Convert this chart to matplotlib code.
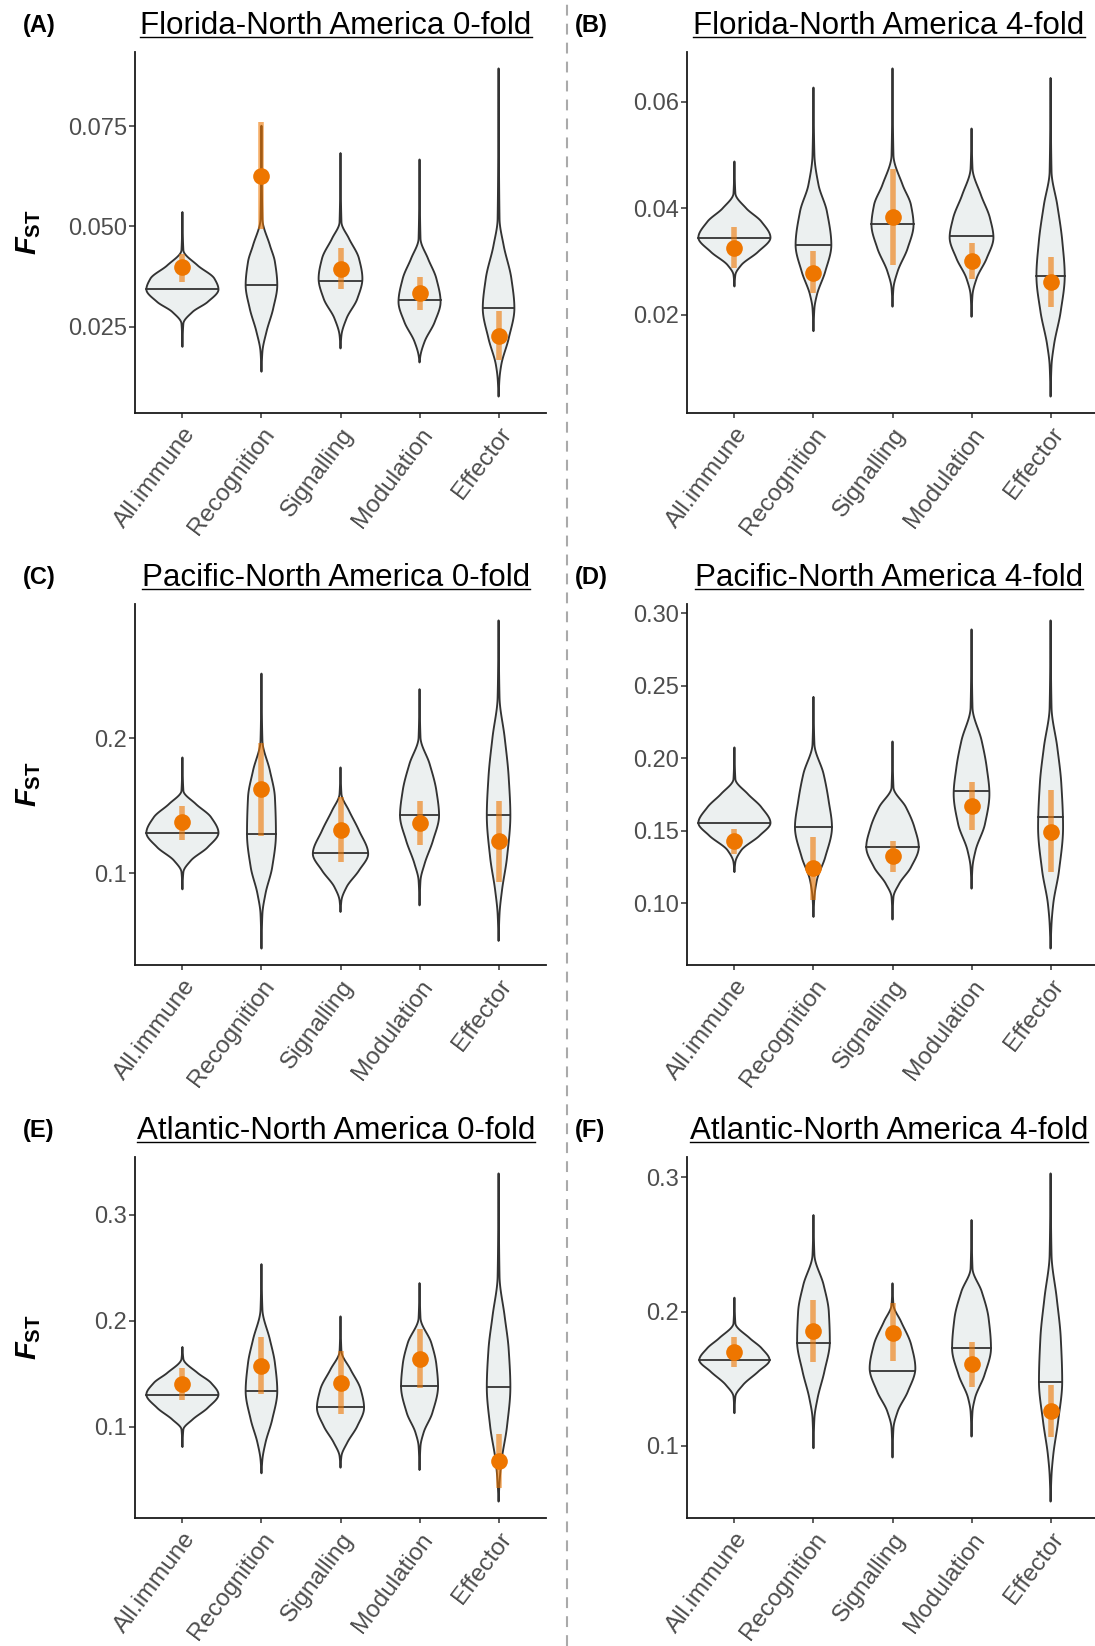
import matplotlib
matplotlib.use('Agg')
import matplotlib.pyplot as plt
import numpy as np
from matplotlib.lines import Line2D

plt.rcParams['font.family'] = ['Liberation Sans', 'DejaVu Sans']
plt.rcParams['mathtext.fontset'] = 'custom'
plt.rcParams['mathtext.it'] = 'Liberation Sans:italic:bold'
plt.rcParams['mathtext.bf'] = 'Liberation Sans:bold'
plt.rcParams['mathtext.rm'] = 'Liberation Sans'

categories = ['All.immune', 'Recognition', 'Signalling', 'Modulation', 'Effector']
titles = ['Florida-North America 0-fold', 'Florida-North America 4-fold',
          'Pacific-North America 0-fold', 'Pacific-North America 4-fold',
          'Atlantic-North America 0-fold', 'Atlantic-North America 4-fold']
tags = ['(A)', '(B)', '(C)', '(D)', '(E)', '(F)']

# violin outlines: FST levels (bottom tip -> top tip) and half widths (category units)
fl0_knot_y = [[0.0200, 0.0258, 0.0287, 0.0312, 0.0343, 0.0370, 0.0403, 0.0441, 0.0536],
              [0.0138, 0.0188, 0.0238, 0.0296, 0.0354, 0.0412, 0.0453, 0.0519, 0.0751],
              [0.0196, 0.0229, 0.0271, 0.0320, 0.0370, 0.0420, 0.0470, 0.0511, 0.0683],
              [0.0161, 0.0179, 0.0213, 0.0262, 0.0312, 0.0370, 0.0420, 0.0470, 0.0667],
              [0.0076, 0.0122, 0.0155, 0.0221, 0.0296, 0.0370, 0.0453, 0.0519, 0.0894]]
fl0_knot_w = [[0, 0.012, 0.128, 0.320, 0.456, 0.405, 0.192, 0.012, 0],
              [0, 0.012, 0.064, 0.149, 0.200, 0.170, 0.107, 0.012, 0],
              [0, 0.012, 0.077, 0.213, 0.277, 0.234, 0.107, 0.012, 0],
              [0, 0.012, 0.064, 0.192, 0.266, 0.213, 0.107, 0.012, 0],
              [0, 0.012, 0.034, 0.128, 0.200, 0.162, 0.064, 0.012, 0]]
fl0_median = [0.0343, 0.0355, 0.0363, 0.0316, 0.0296]
fl0_obs = [0.0399, 0.0627, 0.0395, 0.0334, 0.0228]
fl0_lo = [0.0362, 0.0493, 0.0343, 0.0291, 0.0167]
fl0_hi = [0.0432, 0.0761, 0.0446, 0.0374, 0.0290]
fl0_ticks = [0.025, 0.050, 0.075]
fl0_ticklabels = ['0.025', '0.050', '0.075']

fl4_knot_y = [[0.0253, 0.0275, 0.0293, 0.0318, 0.0345, 0.0375, 0.0400, 0.0428, 0.0488],
              [0.0169, 0.0212, 0.0237, 0.0281, 0.0331, 0.0394, 0.0444, 0.0500, 0.0627],
              [0.0215, 0.0250, 0.0281, 0.0325, 0.0369, 0.0406, 0.0444, 0.0500, 0.0663],
              [0.0196, 0.0237, 0.0268, 0.0306, 0.0345, 0.0381, 0.0425, 0.0475, 0.0550],
              [0.0046, 0.0105, 0.0143, 0.0206, 0.0273, 0.0337, 0.0406, 0.0469, 0.0645]]
fl4_knot_w = [[0, 0.012, 0.085, 0.298, 0.456, 0.341, 0.149, 0.012, 0],
              [0, 0.012, 0.043, 0.149, 0.226, 0.170, 0.064, 0.012, 0],
              [0, 0.012, 0.064, 0.192, 0.266, 0.234, 0.128, 0.012, 0],
              [0, 0.012, 0.064, 0.192, 0.277, 0.234, 0.119, 0.012, 0],
              [0, 0.012, 0.043, 0.128, 0.179, 0.149, 0.085, 0.012, 0]]
fl4_median = [0.0345, 0.0331, 0.0370, 0.0347, 0.0273]
fl4_obs = [0.0326, 0.0279, 0.0384, 0.0301, 0.0261]
fl4_lo = [0.0287, 0.0240, 0.0293, 0.0268, 0.0214]
fl4_hi = [0.0364, 0.0320, 0.0474, 0.0334, 0.0309]
fl4_ticks = [0.02, 0.04, 0.06]
fl4_ticklabels = ['0.02', '0.04', '0.06']

pa0_knot_y = [[0.0879, 0.1007, 0.1093, 0.1192, 0.1299, 0.1415, 0.1513, 0.1612, 0.1859],
              [0.0439, 0.0698, 0.0847, 0.1044, 0.1291, 0.1563, 0.1760, 0.1983, 0.2482],
              [0.0711, 0.0797, 0.0896, 0.1019, 0.1143, 0.1316, 0.1464, 0.1588, 0.1785],
              [0.0760, 0.0945, 0.1069, 0.1242, 0.1427, 0.1612, 0.1810, 0.2007, 0.2366],
              [0.0496, 0.0698, 0.0871, 0.1118, 0.1427, 0.1711, 0.2007, 0.2304, 0.2877]]
pa0_knot_w = [[0, 0.012, 0.107, 0.320, 0.456, 0.362, 0.170, 0.012, 0],
              [0, 0.012, 0.051, 0.136, 0.183, 0.170, 0.107, 0.012, 0],
              [0, 0.012, 0.077, 0.234, 0.350, 0.234, 0.107, 0.012, 0],
              [0, 0.012, 0.064, 0.170, 0.247, 0.213, 0.128, 0.012, 0],
              [0, 0.012, 0.043, 0.107, 0.149, 0.128, 0.077, 0.012, 0]]
pa0_median = [0.1299, 0.1291, 0.1148, 0.1432, 0.1432]
pa0_obs = [0.1378, 0.1625, 0.1321, 0.1370, 0.1237]
pa0_lo = [0.1249, 0.1279, 0.1081, 0.1205, 0.0933]
pa0_hi = [0.1501, 0.1965, 0.1563, 0.1538, 0.1538]
pa0_ticks = [0.1, 0.2]
pa0_ticklabels = ['0.1', '0.2']

pa4_knot_y = [[0.1216, 0.1285, 0.1365, 0.1468, 0.1555, 0.1663, 0.1754, 0.1857, 0.2075],
              [0.0907, 0.1044, 0.1159, 0.1319, 0.1525, 0.1708, 0.1892, 0.2098, 0.2423],
              [0.0889, 0.1044, 0.1136, 0.1250, 0.1388, 0.1525, 0.1663, 0.1800, 0.2116],
              [0.1102, 0.1250, 0.1365, 0.1548, 0.1754, 0.1937, 0.2121, 0.2350, 0.2888],
              [0.0689, 0.0861, 0.0998, 0.1227, 0.1525, 0.1823, 0.2075, 0.2350, 0.2950]]
pa4_knot_w = [[0, 0.012, 0.085, 0.320, 0.456, 0.341, 0.170, 0.012, 0],
              [0, 0.012, 0.043, 0.149, 0.234, 0.192, 0.128, 0.012, 0],
              [0, 0.012, 0.085, 0.234, 0.332, 0.277, 0.170, 0.012, 0],
              [0, 0.012, 0.051, 0.170, 0.226, 0.192, 0.128, 0.012, 0],
              [0, 0.012, 0.034, 0.107, 0.158, 0.136, 0.085, 0.012, 0]]
pa4_median = [0.1555, 0.1525, 0.1392, 0.1777, 0.1594]
pa4_obs = [0.1427, 0.1246, 0.1324, 0.1669, 0.1495]
pa4_lo = [0.1342, 0.1026, 0.1216, 0.1509, 0.1216]
pa4_hi = [0.1514, 0.1461, 0.1427, 0.1834, 0.1784]
pa4_ticks = [0.10, 0.15, 0.20, 0.25, 0.30]
pa4_ticklabels = ['0.10', '0.15', '0.20', '0.25', '0.30']

at0_knot_y = [[0.0807, 0.0973, 0.1067, 0.1177, 0.1303, 0.1413, 0.1507, 0.1639, 0.1752],
              [0.0559, 0.0691, 0.0848, 0.1067, 0.1334, 0.1601, 0.1821, 0.2104, 0.2534],
              [0.0612, 0.0722, 0.0848, 0.1005, 0.1177, 0.1350, 0.1538, 0.1711, 0.2041],
              [0.0590, 0.0816, 0.0942, 0.1130, 0.1381, 0.1586, 0.1790, 0.2025, 0.2355],
              [0.0292, 0.0470, 0.0659, 0.1005, 0.1372, 0.1727, 0.2041, 0.2418, 0.3391]]
at0_knot_w = [[0, 0.012, 0.128, 0.320, 0.456, 0.362, 0.192, 0.012, 0],
              [0, 0.012, 0.051, 0.136, 0.200, 0.170, 0.107, 0.012, 0],
              [0, 0.012, 0.085, 0.213, 0.298, 0.256, 0.128, 0.012, 0],
              [0, 0.012, 0.051, 0.162, 0.234, 0.213, 0.149, 0.012, 0],
              [0, 0.012, 0.034, 0.107, 0.149, 0.128, 0.077, 0.012, 0]]
at0_median = [0.1303, 0.1341, 0.1184, 0.1388, 0.1372]
at0_obs = [0.1403, 0.1576, 0.1413, 0.1642, 0.0675]
at0_lo = [0.1256, 0.1312, 0.1115, 0.1363, 0.0417]
at0_hi = [0.1554, 0.1846, 0.1711, 0.1925, 0.0932]
at0_ticks = [0.1, 0.2, 0.3]
at0_ticklabels = ['0.1', '0.2', '0.3']

at4_knot_y = [[0.1244, 0.1368, 0.1454, 0.1554, 0.1640, 0.1727, 0.1802, 0.1913, 0.2104],
              [0.0983, 0.1207, 0.1355, 0.1554, 0.1777, 0.2000, 0.2198, 0.2422, 0.2719],
              [0.0914, 0.1132, 0.1256, 0.1405, 0.1578, 0.1752, 0.1926, 0.2050, 0.2211],
              [0.1070, 0.1256, 0.1355, 0.1529, 0.1727, 0.1950, 0.2149, 0.2322, 0.2682],
              [0.0586, 0.0785, 0.0934, 0.1182, 0.1479, 0.1802, 0.2099, 0.2422, 0.3029]]
at4_knot_w = [[0, 0.012, 0.108, 0.302, 0.444, 0.345, 0.194, 0.012, 0],
              [0, 0.012, 0.052, 0.138, 0.207, 0.194, 0.129, 0.012, 0],
              [0, 0.012, 0.065, 0.194, 0.289, 0.237, 0.108, 0.012, 0],
              [0, 0.012, 0.043, 0.164, 0.246, 0.216, 0.129, 0.012, 0],
              [0, 0.012, 0.034, 0.095, 0.147, 0.129, 0.078, 0.012, 0]]
at4_median = [0.1640, 0.1769, 0.1559, 0.1732, 0.1474]
at4_obs = [0.1702, 0.1856, 0.1844, 0.1608, 0.1261]
at4_lo = [0.1591, 0.1628, 0.1633, 0.1442, 0.1070]
at4_hi = [0.1814, 0.2087, 0.2062, 0.1777, 0.1454]
at4_ticks = [0.1, 0.2, 0.3]
at4_ticklabels = ['0.1', '0.2', '0.3']

VIOLIN_FILL = '#ECF0F0'
VIOLIN_EDGE = '#333333'
ORANGE = '#EE7600'
TICK_GREY = '#4D4D4D'

W, H = 1095, 1646


def pchip(x, y, xn):
    """Shape preserving cubic through the outline knots."""
    x = np.asarray(x, float)
    y = np.asarray(y, float)
    h = np.diff(x)
    d = np.diff(y) / h
    m = np.zeros_like(y)
    for k in range(1, len(x) - 1):
        if d[k - 1] * d[k] > 0:
            w1 = 2 * h[k] + h[k - 1]
            w2 = h[k] + 2 * h[k - 1]
            m[k] = (w1 + w2) / (w1 / d[k - 1] + w2 / d[k])
    m[0], m[-1] = d[0], d[-1]
    idx = np.clip(np.searchsorted(x, xn) - 1, 0, len(x) - 2)
    t = (xn - x[idx]) / h[idx]
    h00 = 2 * t ** 3 - 3 * t ** 2 + 1
    h10 = t ** 3 - 2 * t ** 2 + t
    h01 = -2 * t ** 3 + 3 * t ** 2
    h11 = t ** 3 - t ** 2
    return h00 * y[idx] + h10 * h[idx] * m[idx] + h01 * y[idx + 1] + h11 * h[idx] * m[idx + 1]


def px_axes(fig, x0, y0, x1, y1):
    return fig.add_axes([x0 / W, 1 - y1 / H, (x1 - x0) / W, (y1 - y0) / H])


panels = [
    (fl0_knot_y, fl0_knot_w, fl0_median, fl0_obs, fl0_lo, fl0_hi, fl0_ticks, fl0_ticklabels),
    (fl4_knot_y, fl4_knot_w, fl4_median, fl4_obs, fl4_lo, fl4_hi, fl4_ticks, fl4_ticklabels),
    (pa0_knot_y, pa0_knot_w, pa0_median, pa0_obs, pa0_lo, pa0_hi, pa0_ticks, pa0_ticklabels),
    (pa4_knot_y, pa4_knot_w, pa4_median, pa4_obs, pa4_lo, pa4_hi, pa4_ticks, pa4_ticklabels),
    (at0_knot_y, at0_knot_w, at0_median, at0_obs, at0_lo, at0_hi, at0_ticks, at0_ticklabels),
    (at4_knot_y, at4_knot_w, at4_median, at4_obs, at4_lo, at4_hi, at4_ticks, at4_ticklabels),
]

fig = plt.figure(figsize=(W / 100, H / 100), dpi=100)

col_x = [(135, 546), (687, 1098)]
row_y = [(52, 413), (604, 965), (1157, 1518)]
title_cx = [336, 889]
tag_x = [23, 575]

title_texts = []
for i, (ky, kw, med, obs, lo, hi, ticks, ticklabels) in enumerate(panels):
    r, c = divmod(i, 2)
    x0, x1 = col_x[c]
    y0, y1 = row_y[r]
    ax = px_axes(fig, x0, y0, x1, y1)

    for j in range(len(categories)):
        pos = j + 1
        yy = np.linspace(ky[j][0], ky[j][-1], 400)
        ww = np.clip(pchip(ky[j], kw[j], yy), 0, None)
        xs = np.concatenate([pos + ww, (pos - ww)[::-1]])
        ys = np.concatenate([yy, yy[::-1]])
        ax.fill(xs, ys, facecolor=VIOLIN_FILL, edgecolor=VIOLIN_EDGE, lw=1.35,
                joinstyle='round', zorder=2)
        mw = float(np.clip(pchip(ky[j], kw[j], np.array([med[j]])), 0, None)[0])
        ax.plot([pos - mw, pos + mw], [med[j], med[j]], color=VIOLIN_EDGE, lw=1.3, zorder=3)
        ax.plot([pos, pos], [lo[j], hi[j]], color=ORANGE, alpha=0.6, lw=4,
                solid_capstyle='butt', zorder=4)
        ax.plot(pos, obs[j], 'o', color=ORANGE, ms=12, mec='none', zorder=5)

    # ggplot-like 5% expansion around everything drawn
    all_y = np.concatenate([np.ravel(ky), lo, hi])
    span = all_y.max() - all_y.min()
    ax.set_ylim(all_y.min() - 0.05 * span, all_y.max() + 0.05 * span)
    ax.set_xlim(0.4, len(categories) + 0.6)

    ax.set_yticks(ticks)
    ax.set_yticklabels(ticklabels)
    ax.set_xticks(range(1, len(categories) + 1))
    ax.set_xticklabels(categories, rotation=53, ha='right', va='top',
                       rotation_mode='anchor')

    for side in ['top', 'right']:
        ax.spines[side].set_visible(False)
    for side in ['left', 'bottom']:
        ax.spines[side].set_linewidth(1.3)
        ax.spines[side].set_color('#1A1A1A')
    ax.tick_params(axis='y', length=4.6, width=1.1, color='#333333',
                   labelsize=17, labelcolor=TICK_GREY, pad=1)
    ax.tick_params(axis='x', length=3.6, width=1.1, color='#333333',
                   labelsize=17.5, labelcolor=TICK_GREY, pad=4)

    base = y0 - 18
    t = fig.text(title_cx[c] / W, 1 - base / H, titles[i], fontsize=22.5,
                 ha='center', va='baseline', color='black')
    title_texts.append((t, base))
    fig.text(tag_x[c] / W, 1 - (y0 - 20) / H, tags[i], fontsize=17,
             fontweight='bold', ha='left', va='baseline')

    if c == 0:
        fig.text(28.6 / W, 1 - (y0 + y1) / 2 / H, r'$\mathit{F}_{\mathbf{ST}}$',
                 fontsize=21, rotation=90, ha='center', va='center')

# dashed separator between the two columns
fig.add_artist(Line2D([567 / W, 567 / W], [0, 1], transform=fig.transFigure,
                      color='#AAAAAA', lw=1.5, dashes=(5.2, 3.9)))

# underline the panel titles
fig.canvas.draw()
renderer = fig.canvas.get_renderer()
for t, base in title_texts:
    bb = t.get_window_extent(renderer)
    yl = 1 - (base + 2.5) / H
    fig.add_artist(Line2D([bb.x0 / W, bb.x1 / W], [yl, yl], transform=fig.transFigure,
                          color='black', lw=1.0))

fig.savefig('out.png', dpi=100)
